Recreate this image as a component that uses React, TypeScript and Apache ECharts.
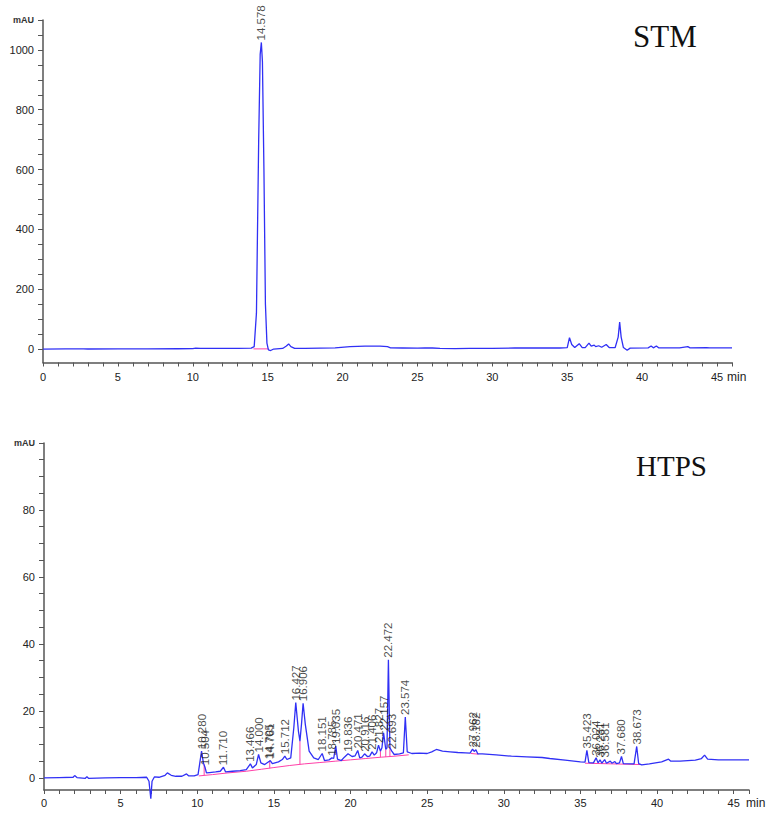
import React, { useEffect, useRef } from 'react';
import * as echarts from 'echarts';

// ---------- STM chromatogram (time in min, signal in mAU) ----------
const stmTrace: [number, number][] = [
  [0, 0], [1.5, 0.3], [2.7, 0.8], [3.0, 0.2], [5, 0.5], [7, 0.8], [9, 1], [10.0, 1.2], [10.2, 3], [10.5, 2.5],
  [11, 2], [12, 2], [13, 2.5], [13.9, 3], [14.1, 8], [14.25, 120], [14.4, 700], [14.5, 985], [14.578, 1025],
  [14.65, 960], [14.75, 600], [14.85, 150], [14.95, 20], [15.05, -3], [15.2, -5], [15.4, 0], [16.0, 2],
  [16.25, 10], [16.4, 17], [16.55, 8], [16.8, 2], [17.5, 2], [18.5, 3], [19.5, 4], [20.5, 8], [21.5, 10],
  [22.5, 10], [23.0, 8], [23.2, 4], [24, 3.5], [25, 3], [25.5, 4], [26, 3.5], [26.5, 2], [27.5, 1.5], [28.5, 2],
  [30, 2.5], [31.5, 3.5], [33, 3.5], [34.5, 3.5], [35.0, 5], [35.15, 38], [35.3, 15], [35.5, 5], [35.8, 18],
  [36.0, 5], [36.2, 5], [36.45, 20], [36.6, 10], [36.8, 13], [36.9, 8], [37.1, 11], [37.3, 6], [37.6, 15],
  [37.8, 5], [38.2, 5], [38.4, 40], [38.5, 90], [38.6, 40], [38.75, 5], [39.0, -4], [39.2, 3], [40.4, 4],
  [40.6, 10], [40.75, 4], [40.95, 10], [41.1, 4], [42.5, 4], [43.05, 8], [43.2, 4], [44.3, 5], [44.5, 4], [46, 4],
];
const stmPeakNames = ['14.578'];
const stmPeakApex = [1025];
const stmBaselines: [number, number][][] = [
  [[14.05, 0.5], [15.05, 0.5]],
];

// ---------- HTPS chromatogram ----------
const htpsTrace: [number, number][] = [
  [0, 0], [1.0, 0.1], [1.9, 0.2], [2.0, 0.7], [2.15, 0.1], [2.7, -0.1], [2.8, 0.4], [2.9, -0.1], [4, 0],
  [5, 0.1], [6, 0.1], [6.7, 0.2], [6.85, -1], [6.97, -6.2], [7.05, -1], [7.2, 0.3], [7.5, 0.2], [7.9, 0.8],
  [8.05, 1.5], [8.3, 0.8], [8.6, 0.5], [9.0, 0.5], [9.3, 1.2], [9.45, 0.6], [9.8, 0.6], [10.05, 1.0],
  [10.15, 4], [10.28, 8], [10.4, 4.5], [10.504, 3.2], [10.6, 1.5], [10.8, 1.6], [11.2, 1.8], [11.5, 2.0],
  [11.71, 3.2], [11.85, 1.8], [12.3, 2.0], [12.8, 2.2], [13.2, 2.5], [13.466, 4.2], [13.6, 3.0], [13.85, 4],
  [14.0, 7], [14.15, 4.5], [14.4, 4], [14.705, 5.0], [14.761, 5.2], [14.9, 4.3], [15.3, 4.8], [15.55, 5.5],
  [15.712, 6.5], [15.85, 5.5], [16.1, 6], [16.3, 15], [16.427, 22.5], [16.6, 14], [16.7, 11], [16.8, 16],
  [16.906, 22.3], [17.05, 16], [17.3, 8], [17.6, 6], [17.9, 5.5], [18.151, 7.3], [18.3, 5.2], [18.6, 5.4],
  [18.785, 6], [18.9, 5.8], [19.035, 9.5], [19.15, 5.6], [19.4, 5.2], [19.6, 6.2], [19.836, 7.2], [20.1, 6.4],
  [20.3, 6.6], [20.471, 8.2], [20.6, 6], [20.75, 6.2], [20.916, 7.2], [21.1, 6.4], [21.25, 6.5], [21.406, 7.8],
  [21.55, 6.8], [21.7, 7.5], [21.827, 9.8], [21.95, 8], [22.05, 9], [22.157, 13.5], [22.3, 8.5], [22.38, 9],
  [22.472, 35.3], [22.57, 9], [22.693, 8.0], [22.85, 7], [23.2, 7.2], [23.45, 7.5], [23.574, 18.2], [23.7, 7.8],
  [24.0, 7.3], [24.5, 7.4], [25.0, 7.3], [25.3, 7.8], [25.6, 8.5], [26.0, 8.0], [26.5, 7.8], [27.0, 7.6],
  [27.5, 7.5], [27.8, 7.4], [27.962, 8.6], [28.07, 7.9], [28.182, 8.4], [28.3, 7.2], [28.6, 7.2], [29.5, 6.9],
  [30.5, 6.5], [31.5, 6.3], [32.5, 6.1], [33.0, 5.8], [34.0, 5.3], [35.0, 4.8], [35.3, 4.7], [35.423, 8.2],
  [35.55, 4.6], [35.85, 4.5], [36.024, 6.0], [36.15, 4.5], [36.281, 5.4], [36.4, 4.4], [36.581, 5.5],
  [36.7, 4.4], [36.95, 5.0], [37.05, 4.4], [37.25, 4.9], [37.35, 4.3], [37.55, 4.5], [37.68, 6.4], [37.8, 4.3],
  [38.5, 4.2], [38.673, 9.4], [38.8, 4.3], [39.0, 3.9], [39.5, 4.2], [40.3, 4.8], [40.75, 5.6], [40.9, 5.0],
  [41.5, 5.0], [42.5, 5.3], [42.9, 5.8], [43.1, 6.8], [43.3, 5.6], [44, 5.4], [45, 5.4], [46, 5.4],
];
const htpsPeakNames = [
  '10.280', '10.504', '11.710', '13.466', '14.000', '14.705', '14.761', '15.712', '16.427', '16.906',
  '18.151', '18.785', '19.035', '19.836', '20.471', '20.916', '21.406', '21.827', '22.157', '22.472',
  '22.693', '23.574', '27.962', '28.182', '35.423', '36.024', '36.281', '36.581', '37.680', '38.673',
];
const htpsPeakApex = [
  8.0, 3.2, 3.2, 4.2, 7.0, 5.0, 5.2, 6.5, 22.5, 22.3,
  7.3, 6.0, 9.5, 7.2, 8.2, 7.2, 7.8, 9.8, 13.5, 35.3,
  8.0, 18.2, 8.6, 8.4, 8.2, 6.0, 5.4, 5.5, 6.4, 9.4,
];
const htpsBaselines: [number, number][][] = [
  [[10.1, 0.6], [11.0, 1.0], [12.0, 1.5], [13.2, 2.0], [14.2, 2.6], [15.0, 3.1], [16.0, 3.7], [17.0, 4.2],
   [18.0, 4.6], [19.0, 5.0], [20.0, 5.4], [21.0, 5.8], [22.0, 6.2], [22.9, 6.5], [23.8, 6.9]],
  [[10.45, 4.0], [10.45, 0.8]],
  [[14.73, 5.0], [14.73, 2.9]],
  [[16.7, 11], [16.7, 4.0]],
  [[21.95, 8.0], [21.95, 6.2]],
  [[22.3, 8.5], [22.3, 6.3]],
  [[22.57, 9.0], [22.57, 6.4]],
  [[27.85, 7.3], [28.35, 7.1]],
  [[35.3, 4.4], [38.9, 4.0]],
];

// ---------- axes ----------
const minuteLabels = [0, 5, 10, 15, 20, 25, 30, 35, 40, 45];
const stmYLabels = [0, 200, 400, 600, 800, 1000, 1100];
const htpsYLabels = [0, 20, 40, 60, 80, 100];

const range = (a: number, b: number, s: number) => {
  const out: number[] = [];
  for (let v = a; v <= b + 1e-9; v += s) out.push(Math.round(v * 1000) / 1000);
  return out;
};

const AXIS = '#555';
const TRACE = '#3030f5';
const PINK = '#ff40a8';
const FONT = 'Liberation Sans, Arial, sans-serif';

function makeX(gridIndex: number, margin: number) {
  return {
    type: 'value', gridIndex, min: 0, max: 46,
    axisLine: { show: true, onZero: false, lineStyle: { color: AXIS, width: 1.5 } },
    axisTick: { show: true, customValues: range(0, 46, 1), length: 4, lineStyle: { color: AXIS, width: 1 } },
    axisLabel: { customValues: minuteLabels, margin, fontSize: 11, color: '#222', fontFamily: FONT },
    splitLine: { show: false },
  };
}

function makeY(gridIndex: number, min: number, max: number, tickStep: number, labels: number[]) {
  return {
    type: 'value', gridIndex, min, max,
    axisLine: { show: true, onZero: false, lineStyle: { color: AXIS, width: 1.5 } },
    axisTick: { show: true, customValues: range(0, max, tickStep), length: 5, lineStyle: { color: AXIS, width: 1 } },
    axisLabel: {
      customValues: labels, margin: 9, fontSize: 11, color: '#222', fontFamily: FONT, showMaxLabel: true,
      formatter: (v: number) => (v === max ? '{u|mAU}' : String(v)),
      rich: { u: { fontSize: 9, fontWeight: 'bold', color: '#333', fontFamily: FONT } },
    },
    splitLine: { show: false },
  };
}

function labelSeries(idx: number, names: string[], apex: number[], times: number[]) {
  return {
    type: 'scatter', xAxisIndex: idx, yAxisIndex: idx, symbolSize: 0, silent: true, z: 5,
    data: names.map((n, i) => ({ name: n, value: [times[i], apex[i]] })),
    label: {
      show: true, formatter: '{b}', position: 'top', distance: 2, rotate: 90,
      align: 'left', verticalAlign: 'middle', fontSize: 11.5, color: '#1a1a1a', fontFamily: FONT,
    },
  };
}

function baselineSeries(idx: number, segs: [number, number][][]) {
  return segs.map((seg) => ({
    type: 'line', xAxisIndex: idx, yAxisIndex: idx, data: seg, symbol: 'none', silent: true, z: 3,
    lineStyle: { color: PINK, width: 1 },
  }));
}

export default function App() {
  const ref = useRef<HTMLDivElement>(null);
  useEffect(() => {
    if (!ref.current) return;
    const chart = echarts.init(ref.current, null, { renderer: 'svg' });
    const option: any = {
      animation: false,
      backgroundColor: '#ffffff',
      grid: [
        { left: 43, top: 20, width: 689, height: 342.5, containLabel: false, outerBoundsMode: 'none' },
        { left: 44, top: 443, width: 705, height: 347, containLabel: false, outerBoundsMode: 'none' },
      ],
      xAxis: [makeX(0, 9), makeX(1, 7)],
      yAxis: [makeY(0, -45, 1100, 50, stmYLabels), makeY(1, -3.6, 100, 5, htpsYLabels)],
      series: [
        {
          type: 'line', xAxisIndex: 0, yAxisIndex: 0, data: stmTrace, symbol: 'none', z: 4,
          lineStyle: { color: TRACE, width: 1.3 },
        },
        ...baselineSeries(0, stmBaselines),
        labelSeries(0, stmPeakNames, stmPeakApex, stmPeakNames.map(Number)),
        {
          type: 'line', xAxisIndex: 1, yAxisIndex: 1, data: htpsTrace, symbol: 'none', z: 4, clip: false,
          lineStyle: { color: TRACE, width: 1.3 },
        },
        ...baselineSeries(1, htpsBaselines),
        labelSeries(1, htpsPeakNames, htpsPeakApex, htpsPeakNames.map(Number)),
      ],
      graphic: [
        { type: 'text', x: 633, y: 36, style: { text: 'STM', font: '31px "Liberation Serif", "Times New Roman", serif', fill: '#111', verticalAlign: 'middle' } },
        { type: 'text', x: 636, y: 466, style: { text: 'HTPS', font: '29px "Liberation Serif", "Times New Roman", serif', fill: '#111', verticalAlign: 'middle' } },
        { type: 'text', x: 727, y: 377, style: { text: 'min', font: '12px ' + FONT, fill: '#222', verticalAlign: 'middle' } },
        { type: 'text', x: 746, y: 803, style: { text: 'min', font: '12px ' + FONT, fill: '#222', verticalAlign: 'middle' } },
      ],
    };
    chart.setOption(option);
    return () => chart.dispose();
  }, []);
  return <div ref={ref} style={{ position: 'absolute', left: 0, top: 0, width: 767, height: 813 }} />;
}
